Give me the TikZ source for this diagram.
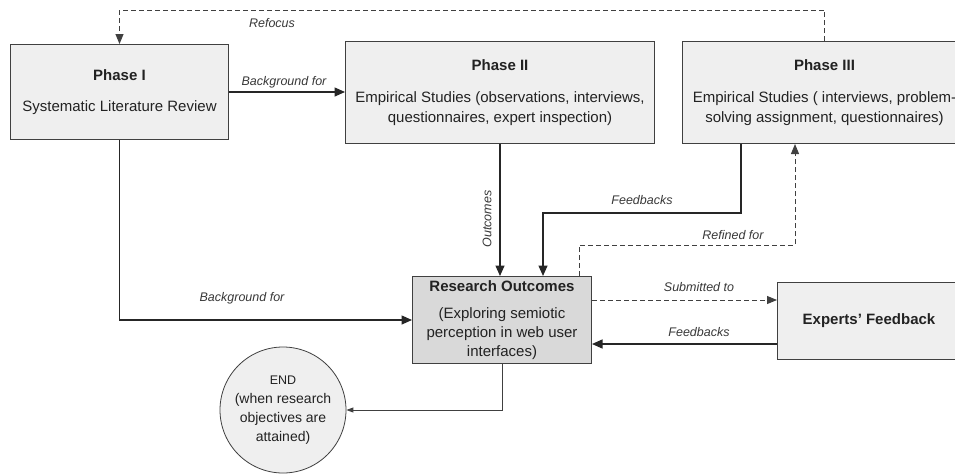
\documentclass[tikz,border=0pt]{standalone}
\usepackage{fontspec}
\setmainfont{Liberation Sans}
\usetikzlibrary{arrows.meta,calc}
\definecolor{boxfill}{HTML}{EFEFEF}
\definecolor{rofill}{HTML}{D9D9D9}
\definecolor{edge}{HTML}{404040}
\definecolor{ink}{HTML}{222222}
\begin{document}
\begin{tikzpicture}[x=1pt,y=-1pt,
  box/.style={draw=edge,line width=1pt,fill=boxfill,text=ink,align=center,inner sep=0pt,anchor=north west,font=\fontsize{15}{20}\selectfont},
  conn/.style={draw=black!85,line width=1.4pt,-{Triangle[length=10.5pt,width=9pt]}},
  dconn/.style={draw=edge,line width=1pt,dash pattern=on 5pt off 3pt,-{Triangle[length=10pt,width=8pt]}},
  lbl/.style={font=\fontsize{12.5}{14}\selectfont\itshape,text=ink!90,inner sep=0pt}]
\useasboundingbox (0,0) rectangle (955,474);
\clip (0,0) rectangle (955,474);
\fill[white] (0,0) rectangle (955,474);

\node[box,minimum width=218pt,minimum height=95pt] (p1) at (10,44)
  {{\bfseries Phase I}\\[11pt]Systematic Literature Review};
\node[box,minimum width=309pt,minimum height=102pt] (p2) at (345,41)
  {{\bfseries Phase II}\\[12pt]Empirical Studies (observations, interviews,\\questionnaires, expert inspection)};
\node[box,minimum width=284pt,minimum height=102pt] (p3) at (682,41)
  {{\bfseries Phase III}\\[12pt]Empirical Studies ( interviews, problem-\\solving assignment, questionnaires)};
\node[box,fill=rofill,minimum width=179pt,minimum height=87pt,font=\fontsize{15}{19}\selectfont] (ro) at (412,276)
  {{\bfseries Research Outcomes}\\[8pt](Exploring semiotic\\perception in web user\\interfaces)};
\node[box,minimum width=183pt,minimum height=77pt] (ex) at (777,282)
  {\bfseries Experts’ Feedback};
\node[draw=edge,line width=0.8pt,fill=boxfill,circle,minimum size=126pt,inner sep=0pt,text=ink,align=center,font=\fontsize{14}{19}\selectfont] (endc) at (283,410)
  {{\fontsize{12.5}{19}\selectfont END}\\(when research\\objectives are\\attained)};

\coordinate (top) at (0,10);
% Refocus
\draw[dconn] (p3.north) -- (p3.north |- top) -| (p1.north);
\node[lbl] (lrefocus) at (272,23) {Refocus};
% Background for (top)
\draw[conn] (p1.east) -- (p1.east -| p2.west);
\node[lbl] (lbg1) at (284,82) {Background for};
% Background for (bottom)
\draw[conn] (p1.south) |- (ro.west);
\node[lbl] (lbg2) at (242,298) {Background for};
% Outcomes
\draw[conn] (p2.south) -- (p2.south |- ro.north);
\node[lbl,rotate=90] (lout) at (487,219) {Outcomes};
% Feedbacks from Phase III
\draw[conn] ($(p3.south west)+(59,0)$) |- ($(ro.north west)+(131,-63)$) -- ($(ro.north west)+(131,0)$);
\node[lbl] (lfb1) at (642,200) {Feedbacks};
% Refined for
\draw[dconn] ($(ro.north west)+(167,0)$) -- ($(ro.north west)+(167,-31)$) -| ($(p3.south west)+(113,0)$);
\node[lbl] (lref) at (733,235) {Refined for};
% Submitted to
\draw[dconn] ($(ro.north east)+(0,24)$) -- ($(ex.north west)+(0,18)$);
\node[lbl] (lsub) at (699,287) {Submitted to};
% Feedbacks from experts
\draw[conn] ($(ex.north west)+(0,62)$) -- ($(ro.north east)+(0,68)$);
\node[lbl] (lfb2) at (699,332) {Feedbacks};
% to END
\draw[draw=edge,line width=0.9pt,-{Triangle[length=7pt,width=5pt]}] (ro.south) |- (endc.east);
\end{tikzpicture}
\end{document}
